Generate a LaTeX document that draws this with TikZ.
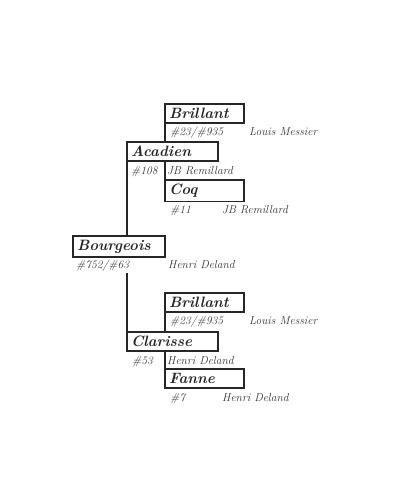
\documentclass[tikz,border=0pt]{standalone}
\usepackage{amsmath}

\begin{document}
\begin{tikzpicture}[x=1pt, y=-1pt,
    box/.style={draw=black!85, line width=1.8pt, anchor=north west, minimum height=19pt,
      inner sep=4pt, outer sep=0pt, align=left, text=black!85,
      font=\fontsize{15}{15}\selectfont\bfseries\itshape},
    s/.style={box, text width=71pt},
    m/.style={box, text width=83pt},
    l/.style={box, text width=84pt},
    info/.style={anchor=base west, inner sep=0pt, text=black!80,
      font=\fontsize{11.5}{13}\selectfont\itshape}
  ]
  \useasboundingbox (0,0) rectangle (400,499);

  % sire side
  \node[s] (BR1) at (165,104) {Brillant};
  \node[info] (BR1n) at (170,135) {\#23/\#935};
  \node[info] (BR1o) at (249,135) {Louis Messier};
  \node[m] (AC) at (127,142) {Acadien};
  \node[info] (ACn) at (131,174) {\#108};
  \node[info] (ACo) at (167,174) {JB Remillard};
  \node[s] (CO) at (165,180) {Coq};
  \node[info] (COn) at (170,213) {\#11};
  \node[info] (COo) at (222,213) {JB Remillard};

  % the horse
  \node[l] (BO) at (73,236) {Bourgeois};
  \node[info] (BOn) at (76,268) {\#752/\#63};
  \node[info] (BOo) at (168,268) {Henri Deland};

  % dam side
  \node[s] (BR2) at (165,293) {Brillant};
  \node[info] (BR2n) at (170,324) {\#23/\#935};
  \node[info] (BR2o) at (249,324) {Louis Messier};
  \node[m] (CL) at (127,332) {Clarisse};
  \node[info] (CLn) at (132,364) {\#53};
  \node[info] (CLo) at (167,364) {Henri Deland};
  \node[s] (FA) at (165,369) {Fanne};
  \node[info] (FAn) at (170,401) {\#7};
  \node[info] (FAo) at (222,401) {Henri Deland};

  \begin{scope}[draw=black!85, line width=1.8pt]
    \draw (BR1.south west) -- (BR1.south west |- AC.north);
    \draw (CO.north west) -- (CO.north west |- AC.south);
    \draw (AC.south west) -- (AC.south west |- BO.north);
    \draw (CL.north west) -- ++(0,-59) coordinate (BOcut);
    \draw (BR2.south west) -- (BR2.south west |- CL.north);
    \draw (FA.north west) -- (FA.north west |- CL.south);
  \end{scope}
\end{tikzpicture}
\end{document}
